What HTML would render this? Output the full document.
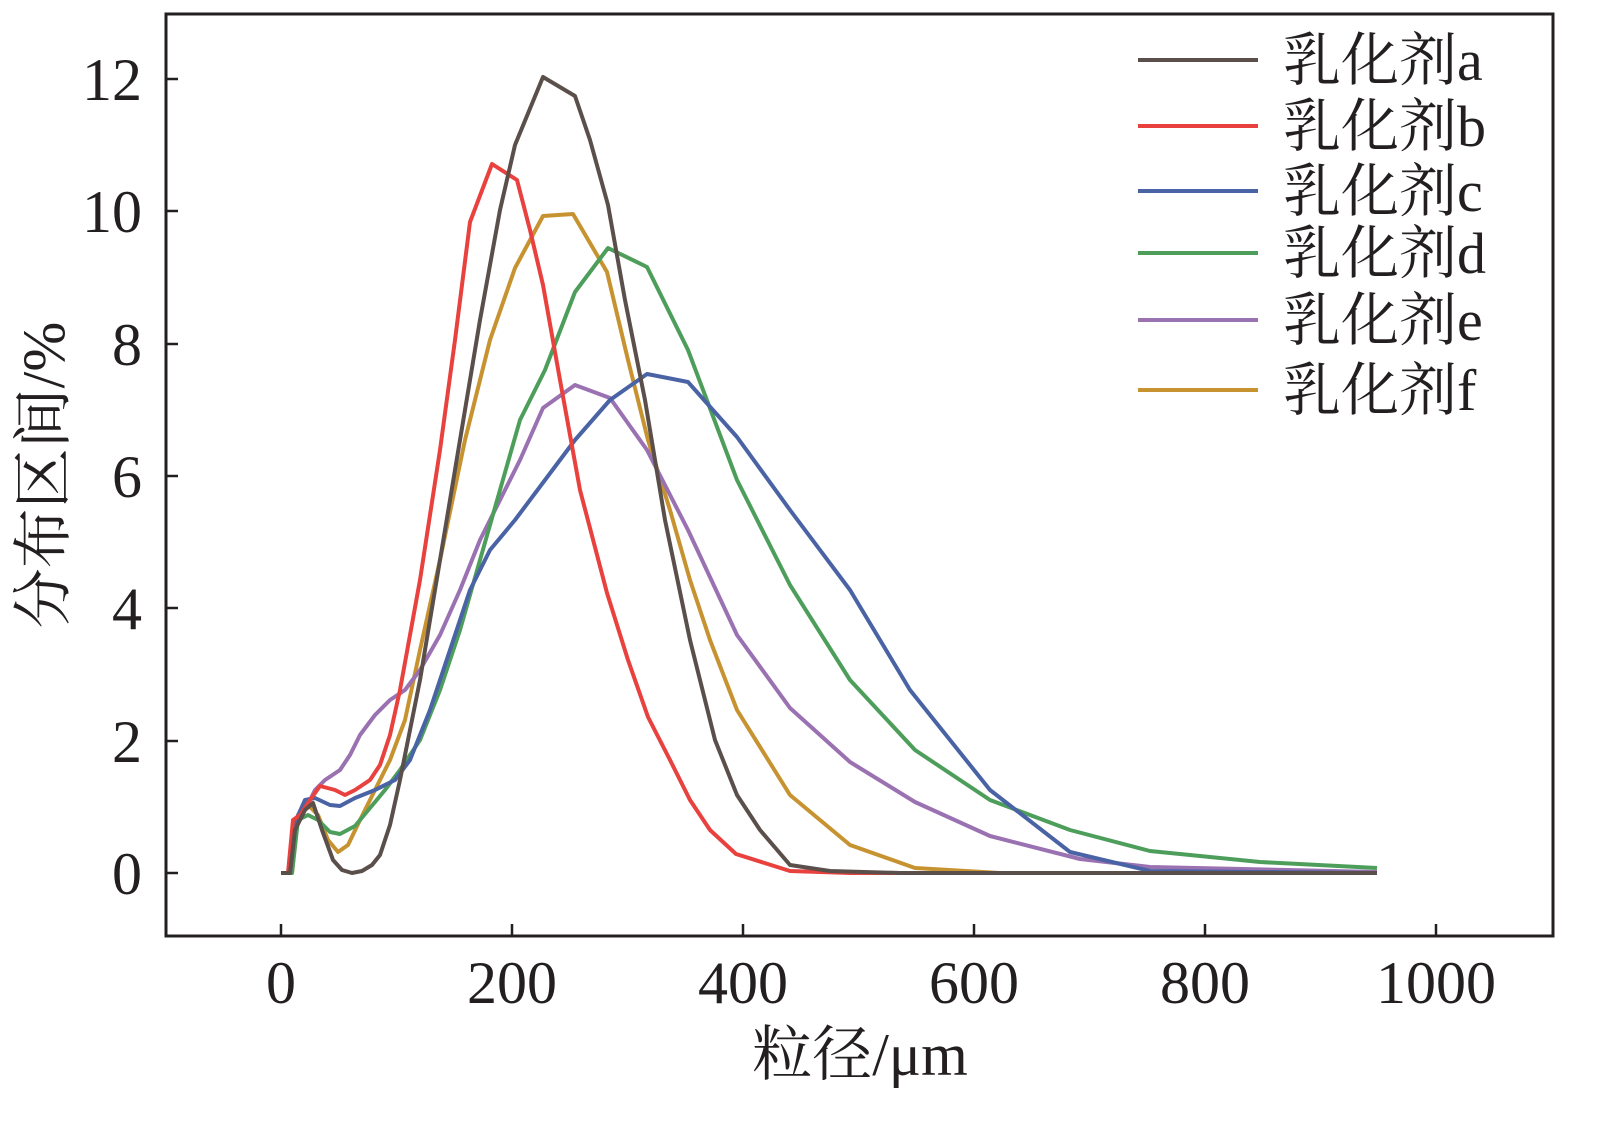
<!DOCTYPE html>
<html><head><meta charset="utf-8"><style>
html,body{margin:0;padding:0;background:#fff;}
svg{display:block}
text{font-family:"Liberation Serif","Noto Serif CJK SC",serif;fill:#231f20}
</style></head><body>
<svg width="1600" height="1121" viewBox="0 0 1600 1121" xmlns="http://www.w3.org/2000/svg">
<rect x="166" y="14" width="1387" height="922" fill="none" stroke="#231f20" stroke-width="3"/>
<g stroke="#231f20" stroke-width="2.5">
<line x1="281" y1="936" x2="281" y2="924"/><line x1="512" y1="936" x2="512" y2="924"/><line x1="743" y1="936" x2="743" y2="924"/><line x1="974" y1="936" x2="974" y2="924"/><line x1="1205" y1="936" x2="1205" y2="924"/><line x1="1436" y1="936" x2="1436" y2="924"/>
<line x1="166" y1="873" x2="178" y2="873"/><line x1="166" y1="741" x2="178" y2="741"/><line x1="166" y1="608" x2="178" y2="608"/><line x1="166" y1="476" x2="178" y2="476"/><line x1="166" y1="344" x2="178" y2="344"/><line x1="166" y1="211" x2="178" y2="211"/><line x1="166" y1="79" x2="178" y2="79"/>
</g>
<g font-size="60" text-anchor="middle">
<text x="281" y="1003">0</text><text x="512" y="1003">200</text><text x="743" y="1003">400</text><text x="974" y="1003">600</text><text x="1205" y="1003">800</text><text x="1436" y="1003">1000</text>
</g>
<g font-size="60" text-anchor="end">
<text x="142" y="894">0</text><text x="142" y="762">2</text><text x="142" y="629">4</text><text x="142" y="497">6</text><text x="142" y="365">8</text><text x="142" y="232">10</text><text x="142" y="100">12</text>
</g>
<text x="860" y="1075" font-size="60" text-anchor="middle">粒径/μm</text>
<text transform="translate(64,475) rotate(-90)" font-size="60" text-anchor="middle">分布区间/%</text>
<g fill="none" stroke-width="4" stroke-linejoin="round">
<polyline stroke="#c79330" points="281,873 292,873 298,815 308,805 318,815 328,840 338,852 348,845 360,820 375,790 390,760 405,720 420,650 440,560 465,440 490,340 515,268 543,216 573,214 607,272 628,360 648,440 670,510 690,580 710,640 737,710 790,795 850,845 915,868 1000,873 1377,873"/>
<polyline stroke="#9a72b2" points="281,873 290,873 295,820 305,810 315,790 325,780 340,770 350,755 360,735 375,715 390,700 405,690 420,670 440,635 460,590 480,540 500,500 520,460 543,408 575,385 610,398 647,450 688,530 737,635 790,708 850,762 915,802 990,836 1080,859 1150,867 1377,872"/>
<polyline stroke="#4e9e5b" points="281,873 292,873 298,820 308,815 318,820 330,832 340,834 355,826 370,808 385,790 400,770 420,740 440,690 460,630 480,560 500,490 520,420 545,370 575,292 608,248 647,267 688,350 737,480 790,585 850,680 915,750 990,800 1070,830 1150,851 1260,862 1377,868"/>
<polyline stroke="#4a63a5" points="281,873 290,873 296,820 305,800 315,798 330,805 340,806 355,798 375,790 395,780 410,760 430,710 450,650 470,590 490,550 515,520 545,480 575,440 610,400 647,374 688,382 737,437 790,510 850,590 910,690 990,790 1070,852 1150,871 1377,873"/>
<polyline stroke="#e8413e" points="281,873 288,873 293,820 300,815 310,800 320,786 335,790 345,795 355,790 370,780 380,765 390,735 400,690 420,580 440,450 455,340 470,222 492,164 517,180 530,230 543,285 560,380 580,490 607,593 628,660 648,717 670,760 690,800 710,830 736,854 790,871 850,873 1377,873"/>
<polyline stroke="#5a4f4a" points="281,873 290,873 295,830 305,810 313,803 322,830 333,860 342,870 352,873 362,871 372,865 380,855 390,825 400,780 420,680 440,560 460,440 480,320 500,210 515,145 543,77 575,96 590,140 608,205 625,300 645,400 665,520 690,640 715,740 737,795 760,830 790,865 830,871 900,873 1377,873"/>
</g>
<g stroke-width="4">
<line x1="1138" y1="60" x2="1258" y2="60" stroke="#5a4f4a"/>
<line x1="1138" y1="126" x2="1258" y2="126" stroke="#e8413e"/>
<line x1="1138" y1="191" x2="1258" y2="191" stroke="#4a63a5"/>
<line x1="1138" y1="253" x2="1258" y2="253" stroke="#4e9e5b"/>
<line x1="1138" y1="320" x2="1258" y2="320" stroke="#9a72b2"/>
<line x1="1138" y1="390" x2="1258" y2="390" stroke="#c79330"/>
</g>
<g font-size="58">
<text x="1283" y="80">乳化剂a</text>
<text x="1283" y="146">乳化剂b</text>
<text x="1283" y="211">乳化剂c</text>
<text x="1283" y="273">乳化剂d</text>
<text x="1283" y="340">乳化剂e</text>
<text x="1283" y="410">乳化剂f</text>
</g>
</svg>
</body></html>
